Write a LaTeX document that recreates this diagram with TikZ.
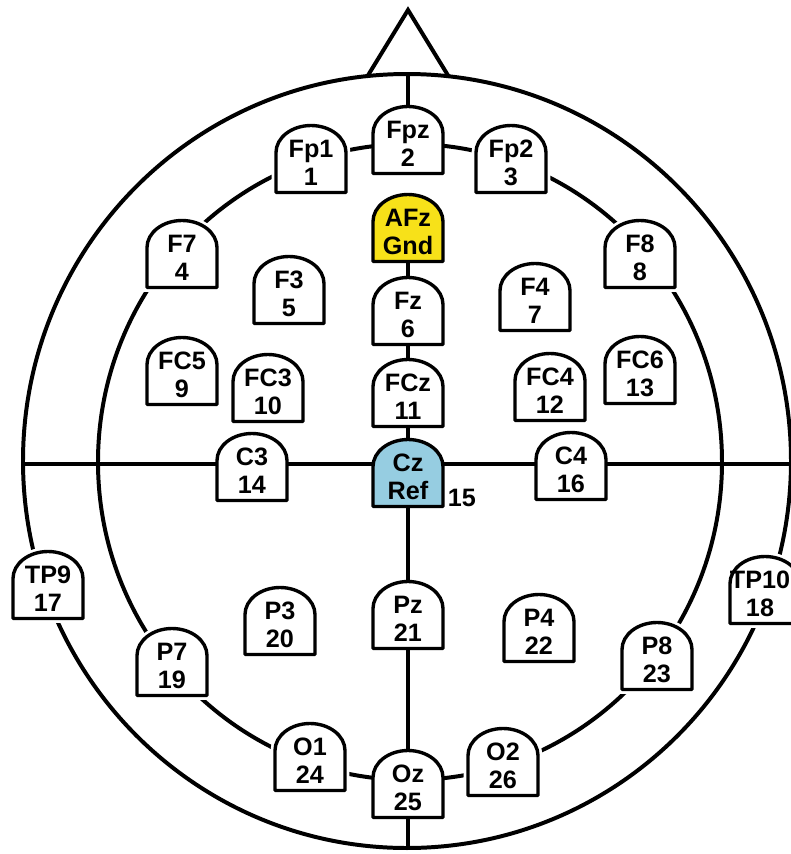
\documentclass[tikz,border=0pt]{standalone}
\usepackage{fontspec}
\setmainfont{Liberation Sans}
\usetikzlibrary{backgrounds}
\definecolor{gndyellow}{RGB}{247,225,25}
\definecolor{refblue}{RGB}{150,205,225}
\tikzset{
  halo/.style={draw=white, line width=7.5pt},
  tomb/.style={draw=black, fill=white, line width=2.9pt, line join=round},
  etext/.style={align=center, inner sep=0pt, font=\fontsize{21.5}{24}\selectfont\bfseries},
  headline/.style={line width=3.4pt},
  axisline/.style={line width=3.2pt},
  tombfill/.style={tomb/.append style={fill=#1}},
  nohalo/.style={halo/.style={draw=none}},
  textleft/.style={etext/.append style={xshift=-#1*0.03cm}},
}
\newcommand\tombpath{(-35,33.5) -- (-35,-6.5) .. controls (-35,-21.4) and (-19.3,-33.5) .. (0,-33.5) .. controls (19.3,-33.5) and (35,-21.4) .. (35,-6.5) -- (35,33.5) -- cycle}
\newcommand\electrode[6][]{%
  \begin{scope}[#1]
    \begin{scope}[shift={(#3,#4)}]
      \path[halo] \tombpath;
      \path[tomb] \tombpath;
    \end{scope}
    \node[etext] (#2) at (#3,#4+4) {#5\\#6};
  \end{scope}
}
\begin{document}
\begin{tikzpicture}[x=0.03cm, y=-0.03cm]
\useasboundingbox (0,0) rectangle (791,854);
% axis end points
\coordinate (N) at (408,74);
\coordinate (S) at (408,848);
\coordinate (W) at (23,464);
\coordinate (E) at (791,464);
% electrodes
\electrode{Fp1}{311}{159}{Fp1}{1}
\electrode[nohalo]{Fpz}{408}{140}{Fpz}{2}
\electrode{Fp2}{511}{159}{Fp2}{3}
\electrode[nohalo, tombfill=gndyellow]{AFz}{408}{228}{AFz}{Gnd}
\electrode{F7}{182}{254}{F7}{4}
\electrode{F3}{289}{290}{F3}{5}
\electrode[nohalo]{Fz}{408}{311}{Fz}{6}
\electrode{F4}{535}{297}{F4}{7}
\electrode{F8}{640}{254}{F8}{8}
\electrode{FC5}{182}{371}{FC5}{9}
\electrode{FC3}{268}{388}{FC3}{10}
\electrode[nohalo]{FCz}{408}{393}{FCz}{11}
\electrode{FC4}{550}{387}{FC4}{12}
\electrode{FC6}{640}{370}{FC6}{13}
\electrode[nohalo]{C3}{252}{467}{C3}{14}
\electrode[nohalo, tombfill=refblue]{Cz}{408}{473}{Cz}{Ref}
\electrode[nohalo]{C4}{571}{466}{C4}{16}
\electrode{TP9}{48}{585}{TP9}{17}
\electrode[textleft=5]{TP10}{765}{590}{TP10}{18}
\electrode{P7}{172}{662}{P7}{19}
\electrode{P3}{280}{621}{P3}{20}
\electrode[nohalo]{Pz}{408}{615}{Pz}{21}
\electrode{P4}{539}{628}{P4}{22}
\electrode{P8}{657}{656}{P8}{23}
\electrode{O1}{310}{757}{O1}{24}
\electrode[nohalo]{Oz}{408}{784}{Oz}{25}
\electrode{O2}{503}{762}{O2}{26}
\node[etext] (n15) at (462,498) {15};
% head, nose and connectors behind the electrodes
\begin{pgfonlayer}{background}
  \fill[white] (0,0) rectangle (791,854);
  \draw[headline] (407,461) ellipse [x radius=384, y radius=387];
  \draw[headline] (410,462) ellipse [x radius=312, y radius=318];
  \draw[headline, line join=miter] (367,77) -- (408,10) -- (449,77);
  \draw[axisline] (N) -- (Fpz.center);
  \draw[axisline] (AFz.center) -- (Fz.center) -- (FCz.center) -- (Cz.center) -- (Pz.center) -- (Oz.center) -- (S);
  \draw[axisline] (W) -- (E);
\end{pgfonlayer}
\end{tikzpicture}
\end{document}
